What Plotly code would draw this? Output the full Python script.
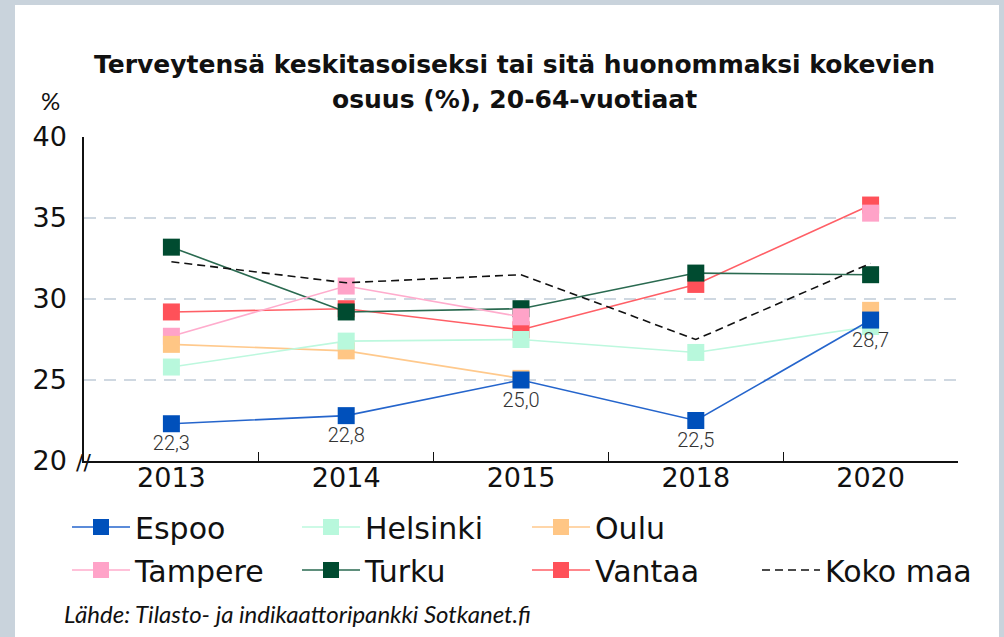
import plotly.graph_objects as go

years = ["2013", "2014", "2015", "2018", "2020"]
espoo = [22.3, 22.8, 25.0, 22.5, 28.7]
helsinki = [25.8, 27.4, 27.5, 26.7, 28.3]
oulu = [27.2, 26.8, 25.1, None, 29.3]
tampere = [27.7, 30.8, 28.9, None, 35.3]
turku = [33.2, 29.2, 29.4, 31.6, 31.5]
vantaa = [29.2, 29.4, 28.1, 30.9, 35.8]
koko_maa = [32.3, 31.0, 31.5, 27.5, 32.2]

title_line1 = "Terveytensä keskitasoiseksi tai sitä huonommaksi kokevien"
title_line2 = "osuus (%), 20-64-vuotiaat"
source_text = "Lähde: Tilasto- ja indikaattoripankki Sotkanet.fi"

W, H = 1004, 637
L, R, T, B = 84, 46, 137, 176
pw, ph = W - L - R, H - T - B


def px(x):
    return (x - L) / pw


def py(y):
    return (H - B - y) / ph


series = [
    # name, values, marker color, line color, legend, rank
    ("Vantaa", vantaa, "#ff5159", "#ff5f66", "legend2", 6),
    ("Turku", turku, "#004b30", "#2a6a50", "legend2", 5),
    ("Tampere", tampere, "#ffa3c8", "#ffaccd", "legend2", 4),
    ("Oulu", oulu, "#ffc685", "#ffc98c", "legend", 3),
    ("Helsinki", helsinki, "#b8f8dc", "#bdf8de", "legend", 2),
    ("Espoo", espoo, "#0050bb", "#2565cc", "legend", 1),
]

label_font = dict(family="Roboto, sans-serif", size=20, color="#333333", weight=300)

fig = go.Figure()
for name, vals, mc, lc, leg, rank in series:
    is_espoo = name == "Espoo"
    fig.add_trace(go.Scatter(
        x=years, y=vals, name=name,
        mode="lines+markers+text" if is_espoo else "lines+markers",
        text=[f"{v:.1f}".replace(".", ",") for v in vals] if is_espoo else None,
        textposition="bottom center", textfont=label_font,
        line=dict(color=lc, width=1.6),
        marker=dict(symbol="square", size=17, color=mc),
        legend=leg, legendrank=rank, connectgaps=False, cliponaxis=False,
    ))

fig.add_trace(go.Scatter(
    x=years, y=koko_maa, name="Koko maa", mode="lines",
    line=dict(color="#111111", width=1.6, dash="8px,5px"),
    legend="legend2", legendrank=7,
))

# white panel
fig.add_shape(type="rect", xref="paper", yref="paper",
              x0=px(15), x1=px(999), y0=py(H + 5), y1=py(5),
              fillcolor="white", line=dict(width=0), layer="below")

# title (two centred lines)
for txt, yc in ((title_line1, 65), (title_line2, 100)):
    fig.add_annotation(x=px(514), y=py(yc), xref="paper", yref="paper", text=txt,
                       showarrow=False, xanchor="center", yanchor="middle",
                       font=dict(family="DejaVu Sans", size=25, color="#111111", weight="bold"))

# % label
fig.add_annotation(x=px(50), y=py(101), xref="paper", yref="paper", text="%",
                   showarrow=False, xanchor="center", yanchor="middle",
                   font=dict(family="Lato", size=24, color="#111111"))
# axis break
fig.add_annotation(x=px(83), y=py(461), xref="paper", yref="paper", text="//",
                   showarrow=False, xanchor="center", yanchor="middle", yshift=-1,
                   font=dict(family="DejaVu Sans", size=22, color="#111111"))
# source
fig.add_annotation(x=px(62), y=py(613), xref="paper", yref="paper", text=source_text,
                   xanchor="left", yanchor="middle", showarrow=False,
                   font=dict(family="Lato", size=24, color="#111111", style="italic"))

legend_common = dict(orientation="h", x=px(67), xanchor="left", yanchor="middle",
                     entrywidth=157, itemwidth=58, traceorder="normal",
                     font=dict(family="DejaVu Sans", size=30, color="#111111"),
                     bgcolor="rgba(0,0,0,0)")

fig.update_layout(
    width=W, height=H,
    margin=dict(l=L, r=R, t=T, b=B, pad=0),
    paper_bgcolor="#c9d3dc",
    plot_bgcolor="white",
    legend=dict(y=py(527), **legend_common),
    legend2=dict(y=py(570), **legend_common),
    showlegend=True,
)

fig.update_xaxes(
    type="category", categoryorder="array", categoryarray=years,
    range=[-0.5, 4.5], showline=True, linecolor="#111111", linewidth=1.5,
    ticks="inside", tickson="boundaries", ticklen=9, tickcolor="#111111", tickwidth=1,
    showgrid=False, tickfont=dict(family="DejaVu Sans", size=27, color="#111111"),
    zeroline=False, ticklabelstandoff=-8,
)
fig.update_yaxes(
    range=[20, 40], tickvals=[20, 25, 30, 35, 40], showline=True, linecolor="#111111",
    linewidth=1.5, ticks="", showgrid=True, gridcolor="#cfd8e1", gridwidth=1.5,
    griddash="12px,8px", zeroline=False, ticklabelstandoff=10,
    tickfont=dict(family="DejaVu Sans", size=27, color="#111111"),
)

fig.write_html(
    "out.html",
    config={"displayModeBar": False},
    post_script="document.body.style.margin='0';document.body.style.backgroundColor='#c9d3dc';",
)
